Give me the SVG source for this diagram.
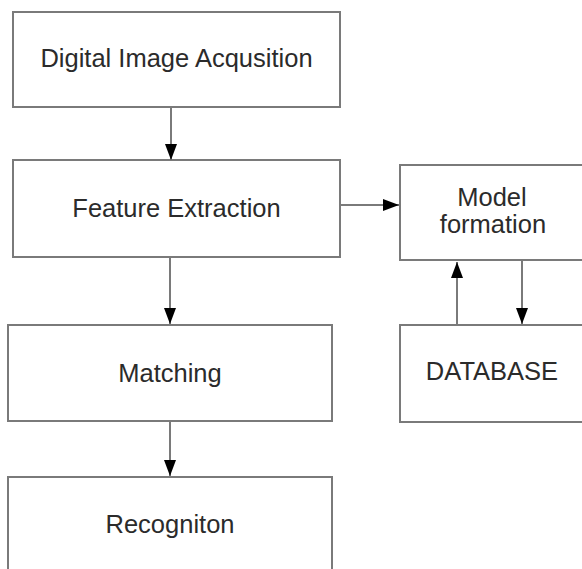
<svg xmlns="http://www.w3.org/2000/svg" width="582" height="569" viewBox="0 0 582 569">
<style>
.box{fill:#ffffff;stroke:#7a7a7a;stroke-width:2}
.lbl{font-family:"Liberation Sans",Arial,sans-serif;font-size:25.5px;fill:#2b2b2b;text-anchor:middle}
.edge{stroke:#7a7a7a;stroke-width:2;fill:none;marker-end:url(#ah)}
</style>
<defs>
<marker id="ah" markerUnits="userSpaceOnUse" markerWidth="17" markerHeight="13" refX="16" refY="6" orient="auto">
<path d="M0,0 L16,6 L0,12 z" fill="#000000"/>
</marker>
</defs>
<rect width="582" height="569" fill="#ffffff"/>
<g id="digital">
<rect class="box" x="13" y="12" width="327" height="95"/>
<text class="lbl" x="176.5" y="67">Digital Image Acqusition</text>
</g>
<g id="feature">
<rect class="box" x="13" y="160" width="327" height="97"/>
<text class="lbl" x="176.5" y="217">Feature Extraction</text>
</g>
<g id="matching">
<rect class="box" x="8" y="325" width="324" height="96"/>
<text class="lbl" x="170" y="382">Matching</text>
</g>
<g id="recognition">
<rect class="box" x="8" y="477" width="324" height="110"/>
<text class="lbl" x="170" y="533">Recogniton</text>
</g>
<g id="model">
<rect class="box" x="400" y="165" width="190" height="95"/>
<text class="lbl" x="492" y="206">Model</text>
<text class="lbl" x="493" y="233">formation</text>
</g>
<g id="database">
<rect class="box" x="400" y="325" width="190" height="97"/>
<text class="lbl" x="492" y="380">DATABASE</text>
</g>
<g id="connectors">
<line class="edge" x1="171" y1="107" x2="171" y2="160"/>
<line class="edge" x1="340" y1="205" x2="399" y2="205"/>
<line class="edge" x1="170" y1="257" x2="170" y2="324"/>
<line class="edge" x1="170" y1="421" x2="170" y2="476"/>
<line class="edge" x1="457" y1="325" x2="457" y2="262"/>
<line class="edge" x1="522" y1="261" x2="522" y2="324"/>
</g>
</svg>
